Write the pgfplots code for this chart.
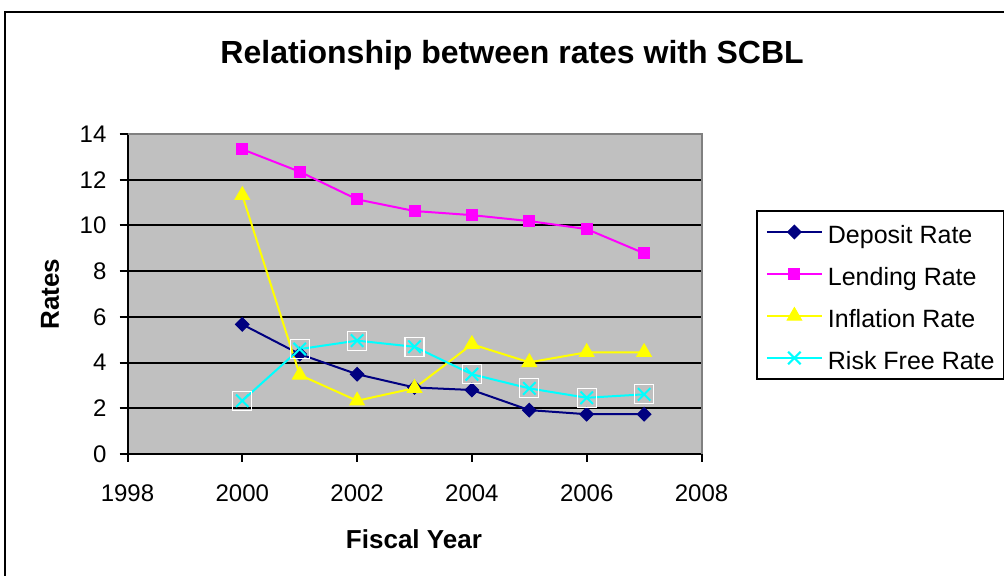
\documentclass[border=0pt]{standalone}
\usepackage{fontspec}
\setmainfont{Liberation Sans}
\usepackage{pgfplots}
\usepackage{pgfplotstable}
\pgfplotsset{compat=1.18}

\definecolor{plotgray}{HTML}{C0C0C0}
\definecolor{framegray}{HTML}{808080}
\definecolor{depositblue}{HTML}{000080}
\definecolor{lendingmag}{HTML}{FF00FF}
\definecolor{inflyellow}{HTML}{FFFF00}
\definecolor{riskcyan}{HTML}{00FFFF}

% Rates of SCBL by fiscal year (%)
\pgfplotstableread{
year deposit lending inflation riskfree
2000 5.67 13.33 11.32 2.33
2001 4.37 12.35 3.46 4.59
2002 3.49 11.14 2.33 4.96
2003 2.91 10.63 2.88 4.69
2004 2.80 10.45 4.80 3.49
2005 1.92 10.19 4.01 2.87
2006 1.74 9.84 4.45 2.46
2007 1.74 8.78 4.45 2.61
}\ratetable

\begin{document}
\begin{tikzpicture}
\useasboundingbox (0,0) rectangle (502pt,288pt);
\clip (0,0) rectangle (502pt,288pt);
\fill[white] (0,0) rectangle (502pt,288pt);
% chart area frame
\draw[line width=0.75pt] (2.5pt,-5pt) |- (510pt,282pt);
\begin{axis}[
  at={(63.75pt,61pt)}, anchor=south west,
  scale only axis, width=287pt, height=160pt,
  xmin=1998, xmax=2008, ymin=0, ymax=14,
  xtick={1998,2000,...,2008}, ytick={0,2,...,14},
  xtick pos=bottom, ytick pos=left,
  tick align=outside, major tick length=4pt,
  axis lines*=left,
  axis line style={black, line width=1pt},
  every tick/.style={black, line width=1pt},
  axis background/.style={fill=plotgray},
  ymajorgrids, major grid style={black, line width=1pt},
  /pgf/number format/assume math mode=true,
  /pgf/number format/1000 sep={},
  tick label style={font=\fontsize{12}{14}\selectfont},
  xticklabel style={anchor=base, yshift=-20pt},
  yticklabel style={anchor=east, xshift=-3pt},
  title={Relationship between rates with SCBL},
  title style={at={(axis description cs:0.67,1.184)}, anchor=base,
    font=\fontsize{16}{19}\selectfont\bfseries},
  xlabel={Fiscal Year},
  xlabel style={at={(axis description cs:0.499,-0.266)}, anchor=center,
    font=\fontsize{13}{15}\selectfont\bfseries},
  ylabel={Rates},
  ylabel style={at={(axis description cs:-0.135,0.5)}, anchor=center,
    font=\fontsize{13}{15}\selectfont\bfseries},
  legend style={at={(axis description cs:1.0944,0.7625)}, anchor=north west,
    draw=black, line width=1pt, fill=white,
    font=\fontsize{12.5}{15}\selectfont,
    inner xsep=4.6pt, inner ysep=4.5pt, row sep=9pt, column sep=2.5pt,
    nodes={inner sep=0pt, text height=12pt, text depth=0pt}},
  legend cell align=left,
  legend image code/.code={\draw[mark repeat=2,mark phase=2,#1]
    plot coordinates {(0pt,0pt)(13.75pt,0pt)(27.5pt,0pt)};},
  after end axis/.code={
    \draw[framegray, line width=1pt] (rel axis cs:0,1) -- (rel axis cs:1,1) -- (rel axis cs:1,0);
  },
]
\addplot[depositblue, line width=1pt, mark=diamond*, mark size=3.4pt,
  mark options={fill=depositblue, xscale=1.33, line width=0.5pt}]
  table[x=year, y=deposit]{\ratetable};
\addlegendentry{Deposit Rate}
\addplot[lendingmag, line width=1pt, mark=square*, mark size=2.75pt,
  mark options={fill=lendingmag, line width=0.5pt}]
  table[x=year, y=lending]{\ratetable};
\addlegendentry{Lending Rate}
\addplot[inflyellow, line width=1pt, mark=triangle*, mark size=4.2pt,
  mark options={fill=inflyellow, line width=0.5pt}]
  table[x=year, y=inflation]{\ratetable};
\addlegendentry{Inflation Rate}
\addplot[riskcyan, line width=1pt, mark=x, mark size=4.4pt]
  table[x=year, y=riskfree]{\ratetable};
\addlegendentry{Risk Free Rate}
% white marker frames around the risk free points
\addplot[forget plot, only marks, mark=square, mark size=4.75pt,
  mark options={draw=white, line width=0.6pt}]
  table[x=year, y=riskfree]{\ratetable};
\end{axis}
\end{tikzpicture}
\end{document}
